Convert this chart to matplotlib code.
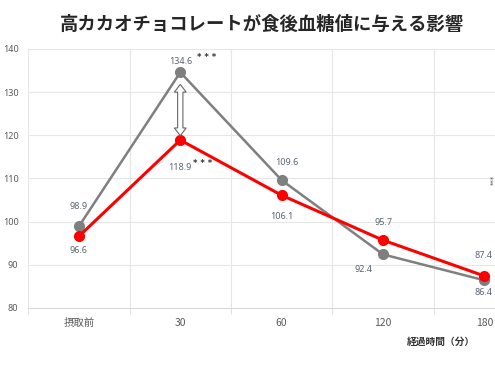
import matplotlib.pyplot as plt
import numpy as np
from matplotlib.patches import Polygon

plt.rcParams['font.family'] = ['Noto Sans CJK JP', 'DejaVu Sans']

# data
categories = ['摂取前', '30', '60', '120', '180']
control = [98.9, 134.6, 109.6, 92.4, 86.4]      # gray line
cacao = [96.6, 118.9, 106.1, 95.7, 87.4]        # red line
yticks = [80, 90, 100, 110, 120, 130, 140]

# label offsets in points (dx, dy) from each marker
control_off = [(0, 14), (0, 8), (4, 13), (-14, -11), (-1, -9)]
cacao_off = [(0, -10), (0, -20), (0, -15), (0, 13), (-1, 15)]
control_star = [False, True, False, False, False]
cacao_star = [False, True, False, False, False]

GRAY = '#7f7f7f'
RED = '#ff0000'
LABEL = '#5b6575'
GRID = '#e6e6e6'
NUMFONT = ['Noto Sans', 'DejaVu Sans']

fig = plt.figure(figsize=(4.95, 3.71), dpi=100)
# plot area runs past the right edge, as in the cropped original
ax = fig.add_axes([0.057, 0.170, 1.024, 0.698])

x = np.arange(len(categories))
ax.set_xlim(-0.5, len(categories) - 0.5)
ax.set_ylim(80, 140)

ax.plot(x, control, color=GRAY, lw=1.8, marker='o', ms=7, zorder=3)
ax.plot(x, cacao, color=RED, lw=2.2, marker='o', ms=7, zorder=4)

def put_labels(vals, offs, stars, star_dx):
    for i, (v, (dx, dy), s) in enumerate(zip(vals, offs, stars)):
        ax.annotate(f'{v:.1f}', (i, v), xytext=(dx, dy), textcoords='offset points',
                    ha='center', va='center', fontsize=6.5, color=LABEL,
                    family=NUMFONT)
        if s:
            ax.annotate('* * *', (i, v), xytext=(dx + star_dx, dy + 3), textcoords='offset points',
                        ha='center', va='center', fontsize=6, color='#333333',
                        fontweight='bold', family=['DejaVu Sans'])

put_labels(control, control_off, control_star, 19)
put_labels(cacao, cacao_off, cacao_star, 16)

# hollow double arrow between the two peaks at 30 min
top = control[1] - 2.8
bot = cacao[1] + 1.0
hw, sw, hl = 0.058, 0.026, 1.8
arrow = np.array([
    [1, top], [1 + hw, top - hl], [1 + sw, top - hl], [1 + sw, bot + hl],
    [1 + hw, bot + hl], [1, bot], [1 - hw, bot + hl], [1 - sw, bot + hl],
    [1 - sw, top - hl], [1 - hw, top - hl],
])
ax.add_patch(Polygon(arrow, closed=True, facecolor='white', edgecolor='#666666',
                     lw=0.8, zorder=5))

# gridlines: horizontal at values, vertical between categories
ax.set_yticks(yticks)
ax.set_yticklabels([str(t) for t in yticks], fontsize=6.5, color='#595959',
                   family=NUMFONT)
for t in yticks:
    ax.axhline(t, color=GRID, lw=0.8, zorder=0)
for b in np.arange(len(categories) + 1) - 0.5:
    ax.axvline(b, color=GRID, lw=0.8, zorder=0)

ax.set_xticks(x)
ax.set_xticklabels(categories, fontsize=7.5, color='#595959')
ax.set_xticks(np.arange(len(categories) + 1) - 0.5, minor=True)
ax.tick_params(axis='x', which='major', length=0, pad=7)
ax.tick_params(axis='x', which='minor', length=4, color='#d9d9d9')
ax.tick_params(axis='y', length=0, pad=7)
for side in ['top', 'right', 'left']:
    ax.spines[side].set_visible(False)
ax.spines['bottom'].set_color('#d9d9d9')

fig.text(0.53, 0.933, '高カカオチョコレートが食後血糖値に与える影響', ha='center',
         va='center', fontsize=13.2, fontweight='bold', color='#262626')
fig.text(0.96, 0.078, '経過時間（分）', ha='right', va='center', fontsize=7,
         fontweight='bold', color='#333333')
fig.text(0.997, 0.515, '***', ha='center', va='center', fontsize=5, rotation=90,
         color='#555555', family=['DejaVu Sans'])

fig.savefig('out.png', dpi=100)
